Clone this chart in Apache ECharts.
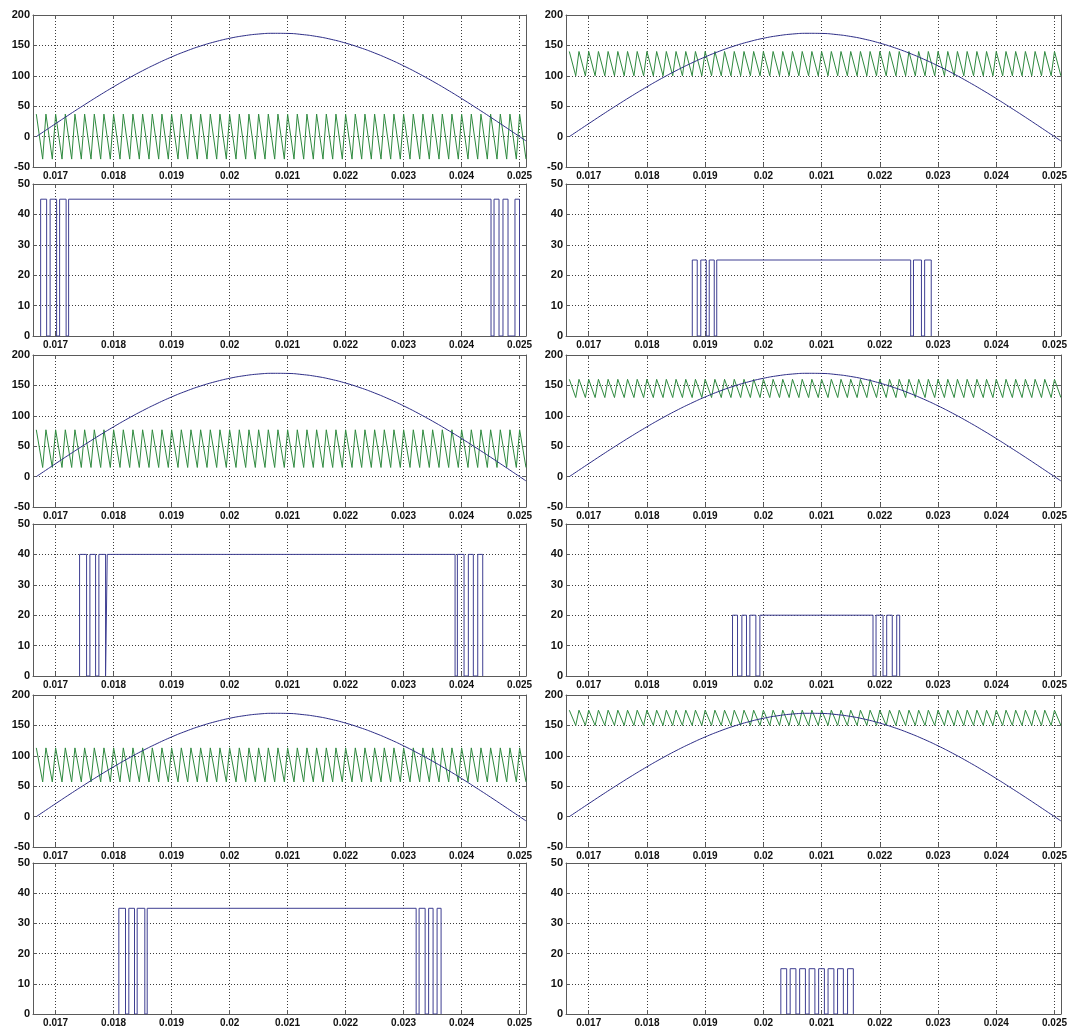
<!DOCTYPE html>
<html>
<head>
<meta charset="utf-8">
<title>Level-shifted carrier PWM</title>
<script src="https://cdn.jsdelivr.net/npm/echarts@6/dist/echarts.min.js"></script>
<style>
  html, body { margin: 0; padding: 0; background: #fff; }
  #chart { width: 1070px; height: 1028px; }
</style>
</head>
<body>
<div id="chart"></div>
<script>
// Time window shown on every panel (s)
const timeMin = 0.01661;
const timeMax = 0.02511;

// Reference sine (half cycle of 60 Hz, peak ~170), sampled every 0.25 ms
const sineTime  = [0.016667, 0.01675, 0.0170, 0.01725, 0.0175, 0.01775, 0.0180, 0.01825, 0.0185, 0.01875,
                   0.0190, 0.01925, 0.0195, 0.01975, 0.0200, 0.02025, 0.0205, 0.02075, 0.0210, 0.02125,
                   0.0215, 0.02175, 0.0220, 0.02225, 0.0225, 0.02275, 0.0230, 0.02325, 0.0235, 0.02375,
                   0.0240, 0.02425, 0.0245, 0.02475, 0.0250, 0.02511];
const sineValue = [0, 5.3, 21.3, 37.1, 52.5, 67.5, 81.9, 95.6, 108.4, 120.2,
                   131.0, 140.6, 149.0, 156.0, 161.7, 165.9, 168.7, 169.9, 169.7, 167.9,
                   164.7, 160.0, 153.8, 146.3, 137.5, 127.5, 116.4, 104.2, 91.1, 77.2,
                   62.6, 47.4, 31.9, 16.0, 0, -7.1];

// Carrier tooth peaks (s); each tooth falls to its trough, then climbs to the next peak
const carrierPeaks = [
  0.016667, 0.016833, 0.017000, 0.017167, 0.017333, 0.017500, 0.017667, 0.017833, 0.018000, 0.018167,
  0.018333, 0.018500, 0.018667, 0.018833, 0.019000, 0.019167, 0.019333, 0.019500, 0.019667, 0.019833,
  0.020000, 0.020167, 0.020333, 0.020500, 0.020667, 0.020833, 0.021000, 0.021167, 0.021333, 0.021500,
  0.021667, 0.021833, 0.022000, 0.022167, 0.022333, 0.022500, 0.022667, 0.022833, 0.023000, 0.023167,
  0.023333, 0.023500, 0.023667, 0.023833, 0.024000, 0.024167, 0.024333, 0.024500, 0.024667, 0.024833,
  0.025000
];
const carrierFall = 0.00011; // peak-to-trough time of one tooth (s)

// Stage order: left column top to bottom, then right column top to bottom
const carrierLow  = [-37, 15, 57, 100, 130, 150];
const carrierHigh = [ 37, 77, 113, 140, 160, 175];
const pulseLevel  = [45, 40, 35, 25, 20, 15];

// Switching instants of each gate signal (s), starting from the low state
const pulseEdges = [
  [0.016742, 0.016845, 0.016905, 0.017017, 0.017069, 0.017181, 0.017224,
   0.024507, 0.024559, 0.024645, 0.024713, 0.024800, 0.024920, 0.024998],
  [0.017413, 0.017534, 0.017591, 0.017689, 0.017746, 0.017861, 0.017890,
   0.023887, 0.023927, 0.024042, 0.024116, 0.024202, 0.024278, 0.024364],
  [0.018090, 0.018205, 0.018262, 0.018360, 0.018406, 0.018538, 0.018579,
   0.023216, 0.023267, 0.023371, 0.023431, 0.023508, 0.023577, 0.023646],
  [0.018779, 0.018864, 0.018925, 0.019019, 0.019070, 0.019156, 0.019199,
   0.022530, 0.022578, 0.022715, 0.022770, 0.022883],
  [0.019470, 0.019556, 0.019631, 0.019710, 0.019768, 0.019871, 0.019940,
   0.021883, 0.021935, 0.022055, 0.022118, 0.022214, 0.022290, 0.022341],
  [0.020300, 0.020400, 0.020460, 0.020559, 0.020623, 0.020722, 0.020786, 0.020885,
   0.020949, 0.021048, 0.021111, 0.021211, 0.021274, 0.021374, 0.021446, 0.021545]
];

// ---- layout and styling ----
const colLeft  = [33, 566];
const colWidth = [493, 497];
const rowTop   = [15, 184, 355, 524, 695, 863];
const plotHeight = 152;

const frameColor = '#5a5a5a';
const gridStyle  = { color: '#3c3c3c', width: 1, type: [1, 2] };
const fontFamily = '"Liberation Sans", Arial, Helvetica, sans-serif';
const sineColor    = '#2c2c86';
const carrierColor = '#2f8a3f';
const pulseColor   = '#3f3f92';

const grids = [], xAxes = [], yAxes = [], series = [];

function timeLabel(v) {
  const k = v * 1000;
  if (Math.abs(k - Math.round(k)) > 1e-6) return '';
  return String(Math.round(k) / 1000);
}

function addPanel(col, row, yMin, yMax, yStep) {
  const p = grids.length;
  grids.push({ left: colLeft[col], top: rowTop[row], width: colWidth[col], height: plotHeight });
  const axisLine = { show: true, onZero: false, lineStyle: { color: frameColor, width: 1 } };
  const axisTick = { show: true, inside: true, length: 4, lineStyle: { color: frameColor, width: 1 } };
  xAxes.push({
    gridIndex: p, type: 'value', position: 'bottom', min: timeMin, max: timeMax, splitNumber: 8,
    axisLine, axisTick,
    axisLabel: { color: '#111', fontFamily, fontWeight: 'bold', fontSize: 10, margin: 4,
                 formatter: timeLabel, showMinLabel: false, showMaxLabel: false },
    splitLine: { show: true, lineStyle: gridStyle }
  });
  xAxes.push({
    gridIndex: p, type: 'value', position: 'top', min: timeMin, max: timeMax, splitNumber: 8,
    axisLine, axisTick, axisLabel: { show: false }, splitLine: { show: false }
  });
  yAxes.push({
    gridIndex: p, type: 'value', position: 'left', min: yMin, max: yMax, interval: yStep,
    axisLine, axisTick,
    axisLabel: { color: '#111', fontFamily, fontWeight: 'bold', fontSize: 11, margin: 3 },
    splitLine: { show: true, lineStyle: gridStyle }
  });
  yAxes.push({
    gridIndex: p, type: 'value', position: 'right', min: yMin, max: yMax, interval: yStep,
    axisLine, axisTick, axisLabel: { show: false }, splitLine: { show: false }
  });
  return p;
}

function lineSeries(p, data, color, smooth) {
  return {
    type: 'line', xAxisIndex: 2 * p, yAxisIndex: 2 * p, data,
    showSymbol: false, symbol: 'none', smooth: smooth || false, silent: true,
    lineStyle: { color, width: 1 }, z: 3
  };
}

const sineData = sineTime.map((t, i) => [t, sineValue[i]]);

for (let s = 0; s < 6; s++) {
  const col = s < 3 ? 0 : 1;
  const pair = s % 3;

  // carrier vs reference panel
  const pc = addPanel(col, 2 * pair, -50, 200, 50);
  const carrier = [];
  carrierPeaks.forEach(t => {
    carrier.push([t, carrierHigh[s]]);
    if (t + carrierFall <= timeMax + 1e-9) carrier.push([t + carrierFall, carrierLow[s]]);
  });
  series.push(lineSeries(pc, carrier, carrierColor));
  series.push(lineSeries(pc, sineData, sineColor, true));

  // gate signal panel: only the switching region is stroked
  const pp = addPanel(col, 2 * pair + 1, 0, 50, 10);
  let level = 0;
  const pulse = [];
  pulseEdges[s].forEach(t => {
    pulse.push([t, level]);
    level = level === 0 ? pulseLevel[s] : 0;
    pulse.push([t, level]);
  });
  series.push(lineSeries(pp, pulse, pulseColor));
}

const chart = echarts.init(document.getElementById('chart'), null, { renderer: 'canvas' });
chart.setOption({
  backgroundColor: '#ffffff',
  animation: false,
  grid: grids,
  xAxis: xAxes,
  yAxis: yAxes,
  series
});
</script>
</body>
</html>
